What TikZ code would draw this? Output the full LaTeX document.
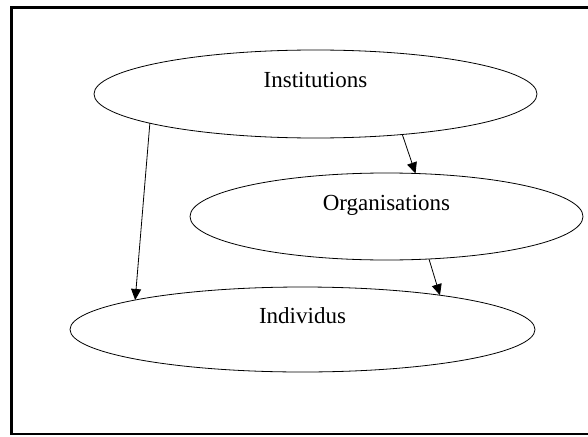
\documentclass[tikz,border=0pt]{standalone}
\usepackage{fontspec}
\setmainfont{Liberation Serif}
\usetikzlibrary{shapes.geometric,arrows.meta}
\tikzset{bulle/.style={ellipse,draw,line width=0.8pt,inner sep=0pt,outer sep=0pt,
  font=\fontsize{23}{26}\selectfont,text height=15pt,text depth=27.6pt}}
\begin{document}
\begin{tikzpicture}[x=1pt,y=-1pt,>={Triangle[length=11pt,width=10pt]},line width=0.8pt]
\useasboundingbox (0,0) rectangle (588,436);
\draw[line width=2.5pt](600,7.5)-|(11.5,434)--(600,434);
\node[bulle,minimum width=443pt,minimum height=88pt](inst) at (315.5,94){Institutions};
\node[bulle,minimum width=393pt,minimum height=87pt](org) at (386.5,216.5){Organisations};
\node[bulle,minimum width=465pt,minimum height=85pt](ind) at (302.5,329.5){Individus};
\draw[->](inst.190.5)--(ind.170.6);
\draw[->](inst.335.9)--(org.56.2);
\draw[->](org.315.7)--(ind.14.3);
\end{tikzpicture}
\end{document}
